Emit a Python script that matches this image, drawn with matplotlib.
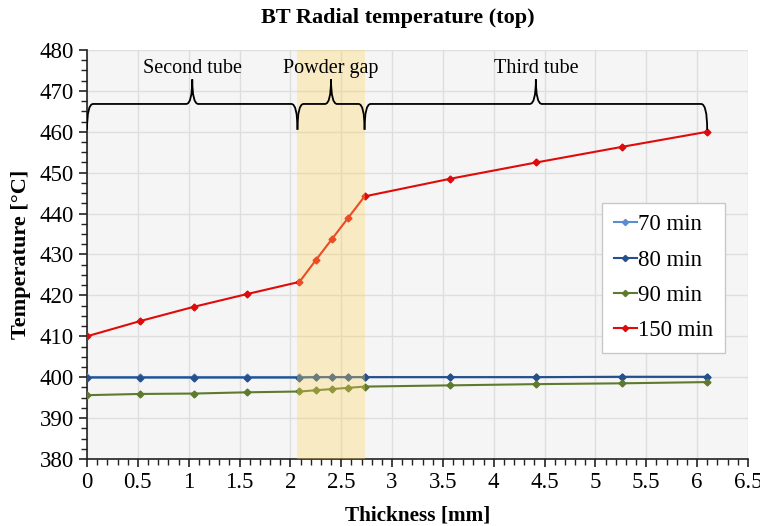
import matplotlib
matplotlib.use('Agg')
import matplotlib.pyplot as plt
from matplotlib.path import Path
import matplotlib.patches as patches
from matplotlib.ticker import MultipleLocator

plt.rcParams['font.family'] = ['Liberation Serif', 'DejaVu Serif']

# Radial positions through the wall [mm]
thickness = [0, 0.52, 1.05, 1.57, 2.09, 2.25, 2.41, 2.57, 2.73, 3.57, 4.42, 5.26, 6.1]

# Temperatures [°C] at each position
temp_70 = [400.0, 400.0, 400.0, 400.0, 400.0, 400.0, 400.0, 400.0, 400.0, 400.0, 400.0, 400.0, 400.0]
temp_80 = [399.9, 399.9, 399.9, 399.9, 399.9, 400.0, 400.0, 400.0, 400.0, 400.0, 400.0, 400.1, 400.1]
temp_90 = [395.6, 395.9, 396.0, 396.3, 396.5, 396.8, 397.1, 397.4, 397.7, 398.0, 398.3, 398.5, 398.8]
temp_150 = [410.0, 413.7, 417.2, 420.3, 423.3, 428.6, 433.8, 439.0, 444.2, 448.5, 452.5, 456.3, 460.0]

series_labels = ['70 min', '80 min', '90 min', '150 min']
series_colors = ['#5b8ed1', '#24508c', '#5e7a2e', '#e00a0a']

# Layer boundaries [mm]
regions = ['Second tube', 'Powder gap', 'Third tube']
region_edges = [0, 2.07, 2.73, 6.1]

fig = plt.figure(figsize=(7.6, 5.26), dpi=100)
ax = fig.add_axes([0.1145, 0.1274, 0.8695, 0.7776])
ax.set_facecolor('#f5f5f5')

for temps, lab, col in zip([temp_70, temp_80, temp_90, temp_150], series_labels, series_colors):
    ax.plot(thickness, temps, color=col, lw=1.5, marker='D', ms=3.5, label=lab, zorder=3)

# powder gap shading sits over the lines
ax.axvspan(region_edges[1], region_edges[2], color='#ffd45e', alpha=0.33, lw=0, zorder=4)


def brace(ax, x0, x1, ymid, ybot, ytop, r=0.06):
    xc = (x0 + x1) / 2
    verts = [(x0, ybot), (x0, ymid), (x0 + r, ymid),
             (xc - r, ymid),
             (xc, ymid), (xc, ytop),
             (xc, ymid), (xc + r, ymid),
             (x1 - r, ymid),
             (x1, ymid), (x1, ybot)]
    codes = [Path.MOVETO, Path.CURVE3, Path.CURVE3,
             Path.LINETO,
             Path.CURVE3, Path.CURVE3,
             Path.CURVE3, Path.CURVE3,
             Path.LINETO,
             Path.CURVE3, Path.CURVE3]
    ax.add_patch(patches.PathPatch(Path(verts, codes), fill=False, lw=1.3,
                                   edgecolor='black', zorder=5))
    return xc


for i, name in enumerate(regions):
    xc = brace(ax, region_edges[i], region_edges[i + 1], 466.8, 460.5, 472.8)
    ax.text(xc, 475.4, name, ha='center', va='center', fontsize=14.5, zorder=6)

ax.set_xlim(0, 6.5)
ax.set_ylim(380, 480)
ax.xaxis.set_major_locator(MultipleLocator(0.5))
ax.xaxis.set_minor_locator(MultipleLocator(0.1))
ax.yaxis.set_major_locator(MultipleLocator(10))
ax.yaxis.set_minor_locator(MultipleLocator(2.5))
ax.xaxis.set_major_formatter(matplotlib.ticker.FuncFormatter(lambda v, p: f'{v:g}'))

ax.grid(True, which='major', color='#dedede', lw=1, zorder=0)
ax.set_axisbelow(True)
for side in ['top', 'right']:
    ax.spines[side].set_visible(False)
for side in ['left', 'bottom']:
    ax.spines[side].set_color('#222222')
    ax.spines[side].set_linewidth(1.2)

ax.tick_params(which='major', direction='out', length=6, width=1.2, labelsize=16.5, color='#222222')
ax.tick_params(which='minor', direction='out', length=4, width=1.0, color='#222222')

ax.set_xlabel('Thickness [mm]', fontsize=15.3, fontweight='bold', labelpad=9)
ax.set_ylabel('Temperature [°C]', fontsize=16, fontweight='bold', labelpad=6)
fig.text(0.524, 0.966, 'BT Radial temperature (top)', ha='center', va='center',
         fontsize=16, fontweight='bold')

leg = ax.legend(loc='upper left', bbox_to_anchor=(0.78, 0.626), borderaxespad=0,
                fontsize=16.5, frameon=True, fancybox=False, framealpha=1,
                edgecolor='#c8c8c8', handlelength=1.0, handletextpad=0.05,
                labelspacing=0.62, borderpad=0.5, markerscale=0.9)
leg.get_frame().set_linewidth(1.0)
leg.set_zorder(10)

plt.savefig('out.png', dpi=100, facecolor='white')
